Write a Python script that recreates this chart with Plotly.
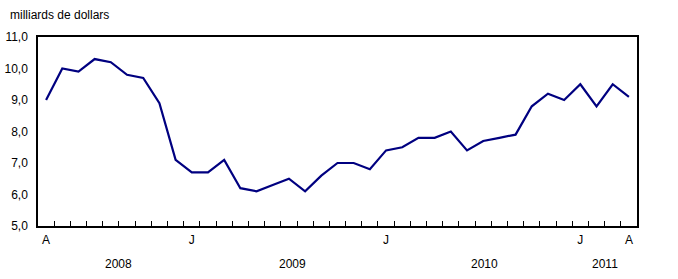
import plotly.graph_objects as go

months = ["2008-04","2008-05","2008-06","2008-07","2008-08","2008-09","2008-10","2008-11","2008-12",
          "2009-01","2009-02","2009-03","2009-04","2009-05","2009-06","2009-07","2009-08","2009-09",
          "2009-10","2009-11","2009-12","2010-01","2010-02","2010-03","2010-04","2010-05","2010-06",
          "2010-07","2010-08","2010-09","2010-10","2010-11","2010-12","2011-01","2011-02","2011-03","2011-04"]
values = [9.0, 10.0, 9.9, 10.3, 10.2, 9.8, 9.7, 8.9, 7.1,
          6.7, 6.7, 7.1, 6.2, 6.1, 6.3, 6.5, 6.1, 6.6,
          7.0, 7.0, 6.8, 7.4, 7.5, 7.8, 7.8, 8.0, 7.4,
          7.7, 7.8, 7.9, 8.8, 9.2, 9.0, 9.5, 8.8, 9.5, 9.1]
month_labels = {"2008-04": "A", "2009-01": "J", "2010-01": "J", "2011-01": "J", "2011-04": "A"}
y_ticks = [5, 6, 7, 8, 9, 10, 11]
y_ticktext = ["5,0", "6,0", "7,0", "8,0", "9,0", "10,0", "11,0"]
years = ["2008", "2009", "2010", "2011"]
year_pos = [4.5, 15.25, 27.1, 34.5]
unit_label = "milliards de dollars"

idx = list(range(len(months)))
tickvals = [i for i, m in enumerate(months) if m in month_labels]
ticktext = [month_labels[months[i]] for i in tickvals]

fig = go.Figure()
fig.add_trace(go.Scatter(x=idx, y=values, mode="lines",
                         line=dict(color="#000080", width=2.2), hoverinfo="skip"))

font = dict(family="Liberation Sans, Arial, sans-serif", size=12, color="#000000")

fig.update_layout(
    width=678, height=279,
    margin=dict(l=38, r=41, t=37, b=53),
    paper_bgcolor="white", plot_bgcolor="white",
    showlegend=False,
    font=font,
    xaxis=dict(range=[-0.5, len(months) - 0.5], tickmode="array", tickvals=tickvals,
               ticktext=ticktext, ticks="", showgrid=False, zeroline=False,
               showline=True, linecolor="black", linewidth=1.5, mirror=True,
               tickfont=font, ticklabelstandoff=2, automargin=False,
               minor=dict(tickmode="array", tickvals=[i + 0.5 for i in idx[:-1]],
                          ticks="inside", ticklen=5, tickcolor="black", tickwidth=1, showgrid=False)),
    yaxis=dict(range=[5, 11], tickmode="array", tickvals=y_ticks, ticktext=y_ticktext,
               ticks="", showgrid=False, zeroline=False,
               showline=True, linecolor="black", linewidth=1.5, mirror=True,
               tickfont=font, ticklabelstandoff=6, automargin=False),
)

for yr, xp in zip(years, year_pos):
    fig.add_annotation(x=xp, y=-0.2, xref="x", yref="paper", text=yr, showarrow=False,
                       font=font, yanchor="middle", xanchor="center")

fig.add_annotation(x=-30/599, y=1 + 22/189, xref="paper", yref="paper", text=unit_label,
                   showarrow=False, font=font, xanchor="left", yanchor="middle")

fig.write_html("out.html")
